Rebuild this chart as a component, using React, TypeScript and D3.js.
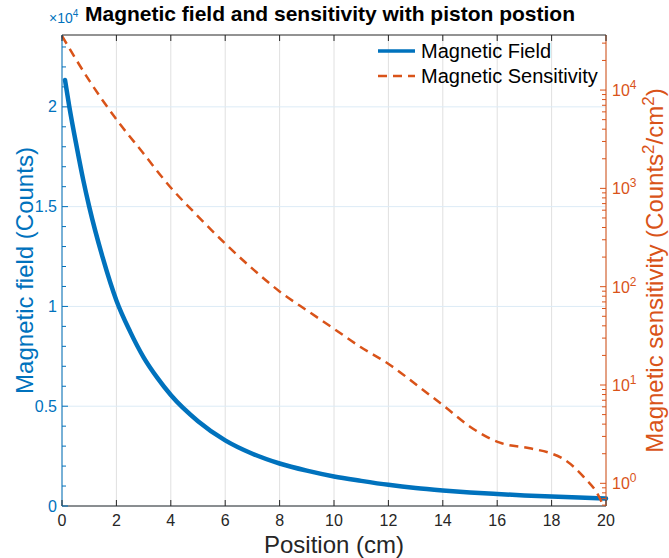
import React from "react";
import * as d3 from "d3";

const width = 669;
const height = 558;
const margin = { top: 35, right: 63, bottom: 52, left: 62 };
const font = "'Liberation Sans', Arial, Helvetica, sans-serif";

// magnetic field, position in cm, value in counts x 10^4
const fieldPos = [0.11, 0.27, 0.54, 0.78, 1, 1.5, 2, 2.5, 3, 3.5, 4, 5, 6, 7, 8, 9, 10, 11, 12, 13, 14, 15, 16, 17, 18, 19, 20];
const fieldVal = [2.135, 2.0, 1.8, 1.634, 1.5, 1.243, 1.03, 0.875, 0.745, 0.643, 0.556, 0.425, 0.329, 0.262, 0.213, 0.177, 0.148, 0.126, 0.106, 0.09, 0.078, 0.068, 0.06, 0.053, 0.047, 0.042, 0.038];

// magnetic sensitivity, counts^2/cm^2
const sensPos = [0, 1.03, 1.95, 2.99, 3.97, 4.95, 5.99, 7.03, 8.01, 9.06, 9.97, 10.96, 12.06, 13.04, 14.08, 15.0, 16.1, 17.2, 17.9, 18.4, 19.17, 19.78, 19.9];
const sensVal = [35481, 12162, 5248, 2275, 1040, 537, 276, 150, 89, 56, 37.8, 24.5, 16.0, 10.0, 6.0, 3.77, 2.59, 2.27, 2.05, 1.79, 1.17, 0.7, 0.59];

const xTicks = [0, 2, 4, 6, 8, 10, 12, 14, 16, 18, 20];
const fieldTicks = [0, 0.5, 1, 1.5, 2];
const fieldTickLabels = ["0", "0.5", "1", "1.5", "2"];
const sensTicks = [1, 10, 100, 1000, 10000];
const sensExp = ["0", "1", "2", "3", "4"];

const blue = "#0072BD";
const orange = "#D95319";
const dark = "#262626";

export default function App() {
  const x0 = margin.left;
  const x1 = width - margin.right;
  const y0 = height - margin.bottom;
  const y1 = margin.top;

  const x = d3.scaleLinear().domain([0, 20]).range([x0, x1]);
  const yL = d3.scaleLinear().domain([0, 2.36]).range([y0, y1]);
  const yR = d3.scaleLog().domain([0.588, 36300]).range([y0, y1]);

  const fieldLine = d3
    .line<number>()
    .x((d, i) => x(fieldPos[i]))
    .y((d) => yL(d))
    .curve(d3.curveMonotoneX);
  const sensLine = d3
    .line<number>()
    .x((d, i) => x(sensPos[i]))
    .y((d) => yR(d))
    .curve(d3.curveMonotoneX);

  const minorL = d3.range(1, 24).map((i) => i / 10).filter((v) => Math.round(v * 10) % 5 !== 0);
  const minorR: number[] = [];
  for (let e = -1; e <= 4; e++) {
    for (let m = 2; m <= 9; m++) {
      const v = m * Math.pow(10, e);
      if (v >= 0.588 && v <= 36300) minorR.push(v);
    }
  }

  return (
    <svg
      width={width}
      height={height}
      style={{ position: "absolute", left: 0, top: 0, background: "#fff", fontFamily: font }}
    >
      {/* grid */}
      {xTicks.map((t) => (
        <line key={"gx" + t} x1={x(t)} x2={x(t)} y1={y1} y2={y0} stroke="#e0e0e0" strokeWidth={1} />
      ))}
      {fieldTicks.map((t) => (
        <line key={"gy" + t} x1={x0} x2={x1} y1={yL(t)} y2={yL(t)} stroke="#dcebf6" strokeWidth={1} />
      ))}

      {/* data */}
      <path d={fieldLine(fieldVal) || ""} fill="none" stroke={blue} strokeWidth={4.5} strokeLinecap="round" />
      <path d={sensLine(sensVal) || ""} fill="none" stroke={orange} strokeWidth={2.5} strokeDasharray="9,6" />

      {/* box */}
      <line x1={x0} x2={x1} y1={y1} y2={y1} stroke={dark} />
      <line x1={x0} x2={x1} y1={y0} y2={y0} stroke={dark} />
      <line x1={x0} x2={x0} y1={y1} y2={y0} stroke={blue} />
      <line x1={x1} x2={x1} y1={y1} y2={y0} stroke={orange} />

      {/* x axis */}
      {xTicks.map((t) => (
        <g key={"xt" + t}>
          <line x1={x(t)} x2={x(t)} y1={y0} y2={y0 - 6} stroke={dark} />
          <line x1={x(t)} x2={x(t)} y1={y1} y2={y1 + 6} stroke={dark} />
          <text x={x(t)} y={y0 + 20} textAnchor="middle" fontSize={16} fill={dark}>
            {t}
          </text>
        </g>
      ))}
      <text x={(x0 + x1) / 2} y={y0 + 47} textAnchor="middle" fontSize={24} fill={dark}>
        Position (cm)
      </text>

      {/* left axis */}
      {fieldTicks.map((t, i) => (
        <g key={"yl" + t}>
          <line x1={x0} x2={x0 + 6} y1={yL(t)} y2={yL(t)} stroke={blue} />
          <text x={x0 - 5} y={yL(t)} dy="0.35em" textAnchor="end" fontSize={16} fill={blue}>
            {fieldTickLabels[i]}
          </text>
        </g>
      ))}
      {minorL.map((t) => (
        <line key={"ml" + t} x1={x0} x2={x0 + 4} y1={yL(t)} y2={yL(t)} stroke={blue} />
      ))}
      <text x={x0 - 13} y={y1 - 12} fontSize={14} fill={blue}>
        ×10<tspan dy={-6} fontSize={10}>4</tspan>
      </text>
      <text transform={`translate(33,${(y0 + y1) / 2}) rotate(-90)`} textAnchor="middle" fontSize={24} fill={blue}>
        Magnetic field (Counts)
      </text>

      {/* right axis */}
      {sensTicks.map((t, i) => (
        <g key={"yr" + t}>
          <line x1={x1} x2={x1 - 6} y1={yR(t)} y2={yR(t)} stroke={orange} />
          <text x={x1 + 6} y={yR(t) + 6} fontSize={16} fill={orange}>
            10<tspan dy={-7} fontSize={12}>{sensExp[i]}</tspan>
          </text>
        </g>
      ))}
      {minorR.map((t) => (
        <line key={"mr" + t} x1={x1} x2={x1 - 4} y1={yR(t)} y2={yR(t)} stroke={orange} />
      ))}
      <text transform={`translate(663,${(y0 + y1) / 2}) rotate(-90)`} textAnchor="middle" fontSize={24} fill={orange}>
        Magnetic sensitivity (Counts<tspan dy={-9} fontSize={17}>2</tspan>
        <tspan dy={9}>/cm</tspan>
        <tspan dy={-9} fontSize={17}>2</tspan>
        <tspan dy={9}>)</tspan>
      </text>

      {/* title */}
      <text x={330} y={21} textAnchor="middle" fontSize={21} fontWeight="bold" fill="#000">
        Magnetic field and sensitivity with piston postion
      </text>

      {/* legend */}
      <line x1={378} x2={415} y1={51} y2={51} stroke={blue} strokeWidth={3.5} />
      <text x={421} y={58} fontSize={20} fill="#000">
        Magnetic Field
      </text>
      <line x1={378} x2={415} y1={76} y2={76} stroke={orange} strokeWidth={2.5} strokeDasharray="9,6" />
      <text x={421} y={83} fontSize={20} fill="#000">
        Magnetic Sensitivity
      </text>
    </svg>
  );
}
